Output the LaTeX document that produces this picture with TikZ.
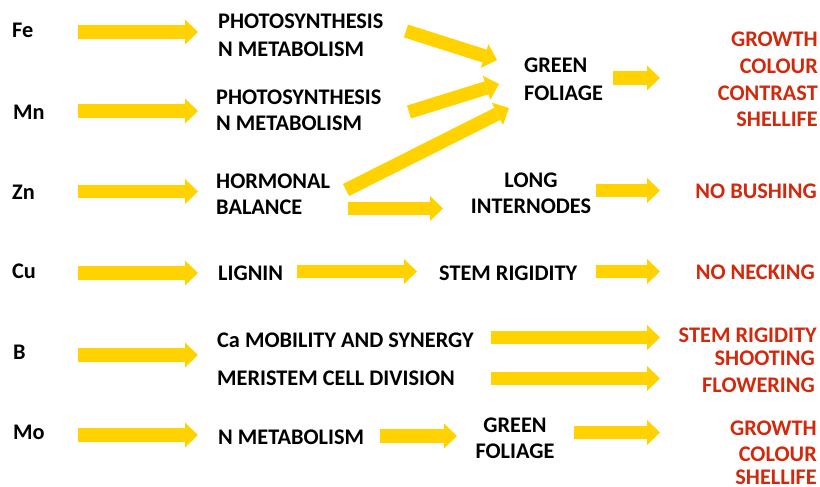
\documentclass[tikz,border=0pt]{standalone}
\usepackage{fontspec}
\setmainfont{Carlito}
\usetikzlibrary{arrows.meta}
\definecolor{arrowyellow}{RGB}{255,210,0}
\definecolor{outred}{RGB}{210,40,12}
\begin{document}
\begin{tikzpicture}[x=1pt,y=-1pt,
  lbl/.style={inner sep=0pt, font=\bfseries\fontsize{22.3}{26}\selectfont, text=black},
  res/.style={lbl, text=outred},
  fat/.style={draw=arrowyellow, line width=13.5pt, -{Triangle[width=25pt,length=13pt,line width=0pt]}}]
\useasboundingbox (0,0) rectangle (820,487);
% elements
\node[lbl,anchor=base west] (fe) at (12,38) {Fe};
\node[lbl,anchor=base west] (mn) at (13,119) {Mn};
\node[lbl,anchor=base west] (zn) at (12,199) {Zn};
\node[lbl,anchor=base west] (cu) at (12,278) {Cu};
\node[lbl,anchor=base west] (b) at (13,359) {B};
\node[lbl,anchor=base west] (mo) at (13,439) {Mo};
% second column
\node[lbl,anchor=base west] (ps1) at (218,29) {PHOTOSYNTHESIS};
\node[lbl,anchor=base west] (nm1) at (218,57) {N METABOLISM};
\node[lbl,anchor=base west] (ps2) at (216,104) {PHOTOSYNTHESIS};
\node[lbl,anchor=base west] (nm2) at (216,131) {N METABOLISM};
\node[lbl,anchor=base west] (hor) at (216,188) {HORMONAL};
\node[lbl,anchor=base west] (bal) at (216,214) {BALANCE};
\node[lbl,anchor=base west] (lig) at (218,280) {LIGNIN};
\node[lbl,anchor=base west] (camob) at (217,347) {Ca MOBILITY AND SYNERGY};
\node[lbl,anchor=base west] (meri) at (217,385) {MERISTEM CELL DIVISION};
\node[lbl,anchor=base west] (nm3) at (218,444) {N METABOLISM};
% third column
\node[lbl,anchor=base west] (gr1) at (524,73) {GREEN};
\node[lbl,anchor=base west] (fo1) at (524,101) {FOLIAGE};
\node[lbl,anchor=base] (long) at (531,187) {LONG};
\node[lbl,anchor=base] (intn) at (531,213) {INTERNODES};
\node[lbl,anchor=base west] (stem) at (439,280) {STEM RIGIDITY};
\node[lbl,anchor=base] (gr2) at (515,432) {GREEN};
\node[lbl,anchor=base] (fo2) at (515,458) {FOLIAGE};
% results
\node[res,anchor=base east] (r1) at (818,47) {GROWTH};
\node[res,anchor=base east] (r2) at (818,74) {COLOUR};
\node[res,anchor=base east] (r3) at (818,100) {CONTRAST};
\node[res,anchor=base east] (r4) at (818,127) {SHELLIFE};
\node[res,anchor=base east] (r5) at (817,198) {NO BUSHING};
\node[res,anchor=base east] (r6) at (815,279) {NO NECKING};
\node[res,anchor=base east] (r7) at (817,342) {STEM RIGIDITY};
\node[res,anchor=base east] (r8) at (815,365) {SHOOTING};
\node[res,anchor=base east] (r9) at (815,392) {FLOWERING};
\node[res,anchor=base east] (r10) at (817,435) {GROWTH};
\node[res,anchor=base east] (r11) at (817,461) {COLOUR};
\node[res,anchor=base east] (r12) at (817,484) {SHELLIFE};
% arrow ends
\coordinate (a1s) at (78,32);   \coordinate (a1e) at (198,32);
\coordinate (a2s) at (78,111);  \coordinate (a2e) at (198,111);
\coordinate (a3s) at (78,191.5);\coordinate (a3e) at (198,191.5);
\coordinate (a4s) at (78,273);  \coordinate (a4e) at (198,273);
\coordinate (a5s) at (78,355);  \coordinate (a5e) at (198,355);
\coordinate (a6s) at (78,435);  \coordinate (a6e) at (198,435);
\coordinate (d1s) at (406,31);  \coordinate (d1e) at (497,60);
\coordinate (d2s) at (409,112); \coordinate (d2e) at (499,84);
\coordinate (d3s) at (346,190); \coordinate (d3e) at (509,108);
\coordinate (h1s) at (348,208.5); \coordinate (h1e) at (443,208.5);
\coordinate (g1s) at (613,78);  \coordinate (g1e) at (660,78);
\coordinate (l1s) at (596,190.5); \coordinate (l1e) at (660,190.5);
\coordinate (c1s) at (297,271.5); \coordinate (c1e) at (417,271.5);
\coordinate (c2s) at (596,271.5); \coordinate (c2e) at (660,271.5);
\coordinate (b1s) at (491,337.5); \coordinate (b1e) at (660,337.5);
\coordinate (b2s) at (491,378.5); \coordinate (b2e) at (660,378.5);
\coordinate (m1s) at (380,436); \coordinate (m1e) at (457,436);
\coordinate (m2s) at (574,432.5); \coordinate (m2e) at (660,432.5);
% arrows
\foreach \s/\e in {a1s/a1e,a2s/a2e,a3s/a3e,a4s/a4e,a5s/a5e,a6s/a6e,
  d1s/d1e,d2s/d2e,d3s/d3e,h1s/h1e,g1s/g1e,l1s/l1e,c1s/c1e,c2s/c2e,
  b1s/b1e,b2s/b2e,m1s/m1e,m2s/m2e}
  \draw[fat] (\s) -- (\e);
\end{tikzpicture}
\end{document}
